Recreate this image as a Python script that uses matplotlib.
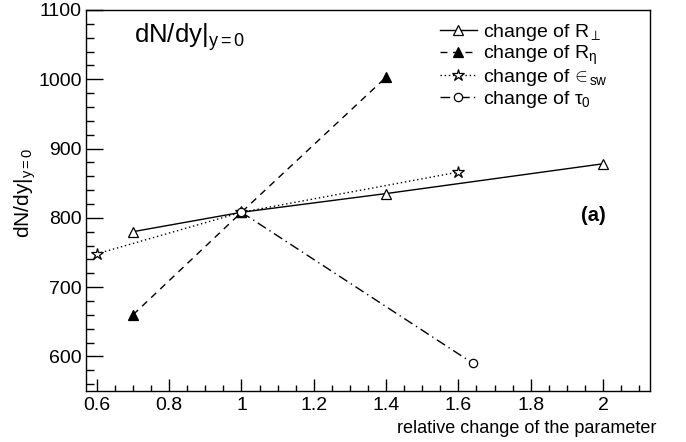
import matplotlib
matplotlib.use("Agg")
import matplotlib.pyplot as plt
from matplotlib.ticker import MultipleLocator

plt.rcParams['font.family'] = ['Liberation Sans', 'DejaVu Sans']
plt.rcParams['mathtext.fontset'] = 'custom'
plt.rcParams['mathtext.rm'] = 'Liberation Sans'
plt.rcParams['mathtext.it'] = 'Liberation Sans'
plt.rcParams['mathtext.bf'] = 'Liberation Sans:bold'

# Data
r_par_x = [0.7, 1.0, 1.4, 2.0]
r_par_y = [780, 808, 835, 878]
r_perp_x = [0.7, 1.0, 1.4]
r_perp_y = [660, 808, 1003]
eps_x = [0.6, 1.0, 1.6]
eps_y = [748, 808, 866]
tau_x = [1.0, 1.64]
tau_y = [808, 590]

labels = [r"change of R$_{\perp}$", r"change of R$_{\eta}$",
          r"change of ${\!\in}_{\!\mathrm{sw}}$", r"change of $\tau_{0}$"]

fig = plt.figure(figsize=(6.86, 4.42), dpi=100)
ax = fig.add_axes([86/686, 1-391/442, 564/686, 381/442])

ax.plot(r_par_x, r_par_y, color='black', lw=1.0, ls='-', marker='^', ms=7,
        mfc='white', mec='black', mew=0.9, label=labels[0])
ax.plot(r_perp_x, r_perp_y, color='black', lw=1.0, ls=(0, (5, 4)), marker='^', ms=7,
        mfc='black', mec='black', mew=0.9, label=labels[1])
ax.plot(eps_x, eps_y, color='black', lw=1.0, ls=(0, (1, 2)), marker='*', ms=9,
        mfc='white', mec='black', mew=0.9, label=labels[2])
ax.plot(tau_x, tau_y, color='black', lw=1.0, ls=(0, (7, 3, 1, 3)), marker='o', ms=6,
        mfc='white', mec='black', mew=0.9, label=labels[3])

ax.set_xlim(0.57, 2.13)
ax.set_ylim(550, 1100)
ax.xaxis.set_major_locator(MultipleLocator(0.2))
ax.xaxis.set_minor_locator(MultipleLocator(0.05))
ax.yaxis.set_major_locator(MultipleLocator(100))
ax.yaxis.set_minor_locator(MultipleLocator(20))
ax.set_xticks([0.6, 0.8, 1.0, 1.2, 1.4, 1.6, 1.8, 2.0])
ax.set_xticklabels(['0.6', '0.8', '1', '1.2', '1.4', '1.6', '1.8', '2'])

ax.tick_params(axis='both', which='both', direction='in', top=False, right=False,
               labelsize=14, width=1.0, color='black')
ax.tick_params(axis='y', which='major', length=12)
ax.tick_params(axis='y', which='minor', length=6)
ax.tick_params(axis='x', which='major', length=9)
ax.tick_params(axis='x', which='minor', length=4.5)
ax.tick_params(axis='x', pad=4)
ax.tick_params(axis='y', pad=3)
for s in ax.spines.values():
    s.set_linewidth(1.0)

ax.set_xlabel("relative change of the parameter", fontsize=13)
ax.xaxis.set_label_coords(1.012, -0.075)
ax.xaxis.label.set_ha('right')
ax.set_ylabel(r"dN/dy$|_{\mathrm{y=0}}$", fontsize=15)
ax.yaxis.set_label_coords(-0.085, 0.52)

ax.text(0.085, 0.93, r"dN/dy$|_{\mathrm{y=0}}$", transform=ax.transAxes,
        fontsize=18.5, ha='left', va='center')
ax.text(0.90, 0.46, "(a)", transform=ax.transAxes, fontsize=14.5,
        fontweight='bold', ha='center', va='center')

leg = ax.legend(loc='upper left', bbox_to_anchor=((436-86)/564, 0.978), frameon=False,
                fontsize=14, handlelength=1.9, handletextpad=0.3, labelspacing=0.02,
                borderpad=0.2, borderaxespad=0.0, numpoints=1)

fig.savefig("out.png", dpi=100)
